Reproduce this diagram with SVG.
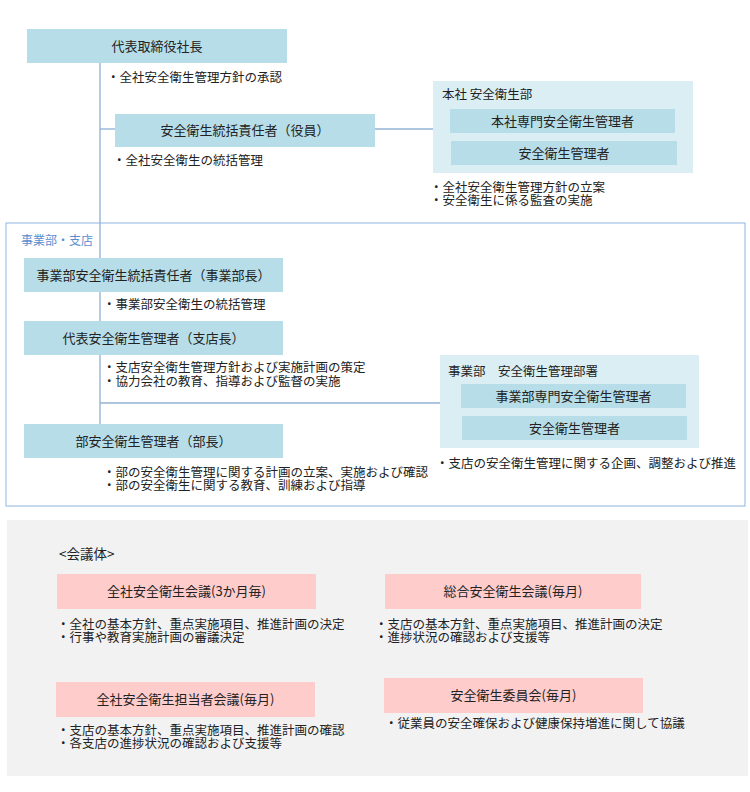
<svg xmlns="http://www.w3.org/2000/svg" width="750" height="792" viewBox="0 0 750 792">
<style>
text{font-family:"Noto Sans CJK JP","Noto Sans",sans-serif;fill:#222}
.t{font-size:13px;text-anchor:middle}
.b{font-size:12.5px}
.lbl{font-size:12.5px}
.box{fill:#b7dee8}
.grp{fill:#daeef3}
.pink{fill:#ffcccc}
.ln{stroke:#95b3d7;stroke-width:1.4;fill:none}
</style>
<rect width="750" height="792" fill="#fff"/>
<rect x="6" y="223" width="739" height="283" fill="none" stroke="#8eb4e3" stroke-width="1"/>
<text x="21" y="244.5" style="font-size:12px;fill:#5b8ed0">事業部・支店</text>
<g id="connectors">
<line class="ln" x1="100" y1="63" x2="100" y2="424"/>
<line class="ln" x1="100" y1="129" x2="115" y2="129"/>
<line class="ln" x1="375" y1="129" x2="433" y2="129"/>
<line class="ln" x1="100" y1="403" x2="440" y2="403"/>
</g>
<g id="ceo">
<rect class="box" x="27" y="29" width="260" height="34"/>
<text class="t" x="157" y="50.5">代表取締役社長</text>
<text class="b" x="107" y="81.5">・全社安全衛生管理方針の承認</text>
</g>
<g id="exec">
<rect class="box" x="115" y="114" width="260" height="33"/>
<text class="t" x="245" y="135">安全衛生統括責任者（役員）</text>
<text class="b" x="113" y="164.5">・全社安全衛生の統括管理</text>
</g>
<g id="hq-dept">
<rect class="grp" x="433" y="81" width="260" height="92"/>
<text class="lbl" x="442" y="98.5">本社 安全衛生部</text>
<rect class="box" x="450" y="109" width="225" height="24"/>
<text class="t" x="562.5" y="125.5">本社専門安全衛生管理者</text>
<rect class="box" x="451" y="141" width="226" height="24"/>
<text class="t" x="564" y="157.5">安全衛生管理者</text>
<text class="b" y="191.5"><tspan x="430">・全社安全衛生管理方針の立案</tspan><tspan x="430" dy="13">・安全衛生に係る監査の実施</tspan></text>
</g>
<g id="div-head">
<rect class="box" x="24" y="258" width="259" height="34"/>
<text class="t" x="153.5" y="279.5">事業部安全衛生統括責任者（事業部長）</text>
<text class="b" x="103" y="308.5">・事業部安全衛生の統括管理</text>
</g>
<g id="branch-head">
<rect class="box" x="24" y="321" width="259" height="34"/>
<text class="t" x="153.5" y="342.5">代表安全衛生管理者（支店長）</text>
<text class="b" y="371.5"><tspan x="103">・支店安全衛生管理方針および実施計画の策定</tspan><tspan x="103" dy="14">・協力会社の教育、指導および監督の実施</tspan></text>
</g>
<g id="dept-head">
<rect class="box" x="24" y="424" width="259" height="34"/>
<text class="t" x="153.5" y="445.5">部安全衛生管理者（部長）</text>
<text class="b" y="476.5"><tspan x="103">・部の安全衛生管理に関する計画の立案、実施および確認</tspan><tspan x="103" dy="13">・部の安全衛生に関する教育、訓練および指導</tspan></text>
</g>
<g id="div-dept">
<rect class="grp" x="440" y="355" width="259" height="93"/>
<text class="lbl" x="448" y="375.5">事業部　安全衛生管理部署</text>
<rect class="box" x="461" y="384" width="225" height="24"/>
<text class="t" x="573.5" y="400.5">事業部専門安全衛生管理者</text>
<rect class="box" x="462" y="416" width="225" height="24"/>
<text class="t" x="574.5" y="432.5">安全衛生管理者</text>
<text class="b" x="436" y="467.5">・支店の安全衛生管理に関する企画、調整および推進</text>
</g>
<rect x="7" y="520" width="741" height="256" fill="#f2f2f2"/>
<text x="59" y="558.5" style="font-size:13.5px">&lt;会議体&gt;</text>
<g id="meeting1">
<rect class="pink" x="57" y="574" width="259" height="35"/>
<text class="t" x="186.5" y="596">全社安全衛生会議(3か月毎)</text>
<text class="b" y="628.5"><tspan x="57">・全社の基本方針、重点実施項目、推進計画の決定</tspan><tspan x="57" dy="13">・行事や教育実施計画の審議決定</tspan></text>
</g>
<g id="meeting2">
<rect class="pink" x="385" y="574" width="256" height="35"/>
<text class="t" x="513" y="596">総合安全衛生会議(毎月)</text>
<text class="b" y="628.5"><tspan x="375">・支店の基本方針、重点実施項目、推進計画の決定</tspan><tspan x="375" dy="13">・進捗状況の確認および支援等</tspan></text>
</g>
<g id="meeting3">
<rect class="pink" x="56" y="682" width="259" height="35"/>
<text class="t" x="185.5" y="704">全社安全衛生担当者会議(毎月)</text>
<text class="b" y="734.5"><tspan x="57">・支店の基本方針、重点実施項目、推進計画の確認</tspan><tspan x="57" dy="13">・各支店の進捗状況の確認および支援等</tspan></text>
</g>
<g id="meeting4">
<rect class="pink" x="384" y="678" width="259" height="35"/>
<text class="t" x="513.5" y="700">安全衛生委員会(毎月)</text>
<text class="b" x="385" y="727.5">・従業員の安全確保および健康保持増進に関して協議</text>
</g>
</svg>
